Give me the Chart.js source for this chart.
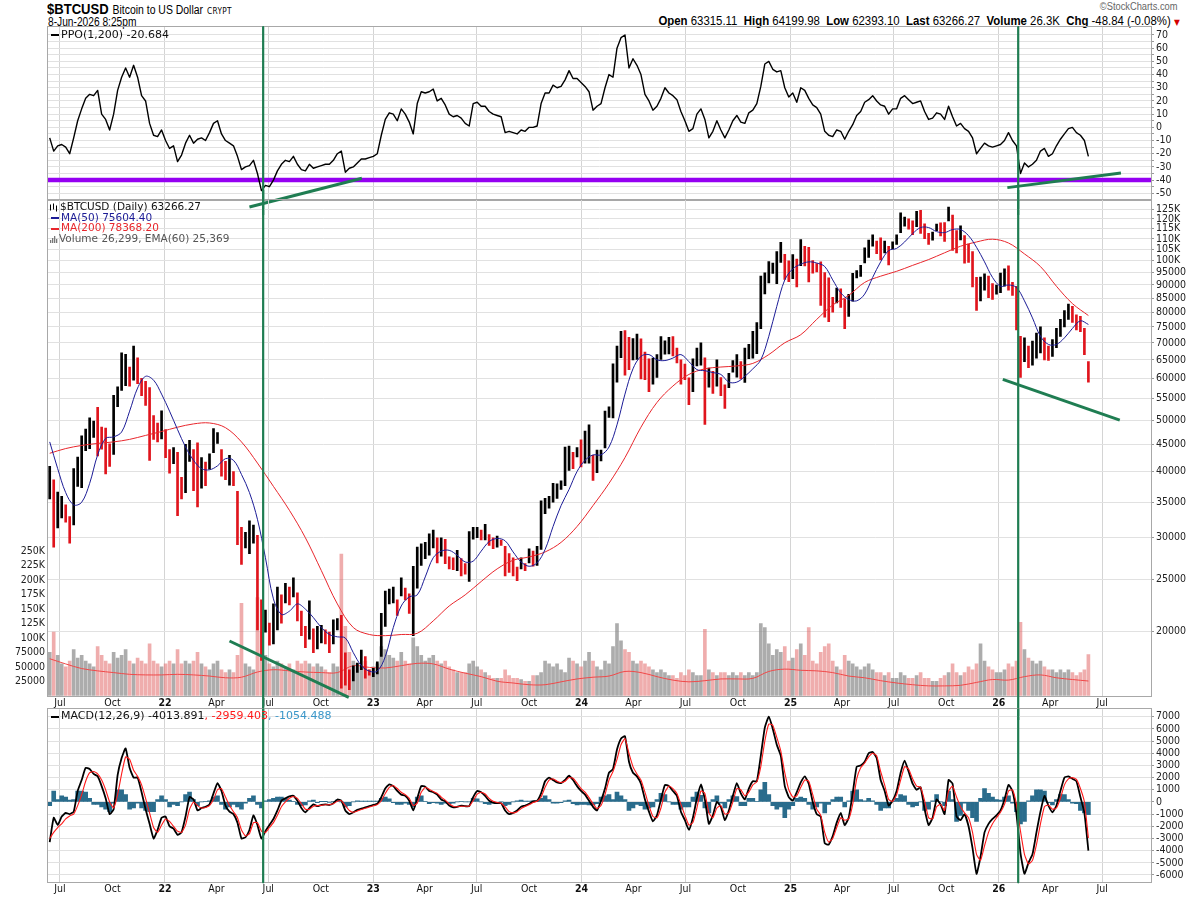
<!DOCTYPE html>
<html>
<head>
<meta charset="utf-8">
<title>$BTCUSD</title>
<script src="https://cdn.jsdelivr.net/npm/chart.js@4.4.1/dist/chart.umd.min.js"></script>
<style>
  html, body { margin: 0; padding: 0; background: #fff; }
  body { width: 1200px; height: 898px; position: relative; overflow: hidden; }
  canvas { position: absolute; left: 0; }
  .hd { position: absolute; white-space: nowrap; color: #000;
        font-family: "Liberation Sans Narrow", "Arial Narrow", "Liberation Sans", sans-serif; }
  #head1 { left: 47px; top: 0px; line-height: 18px; transform: scaleX(0.87); transform-origin: left center; }
  #head1 .sym { font-size: 15px; font-weight: bold; }
  #head1 .nm { font-size: 12px; }
  #head1 .ex { font-family: "DejaVu Sans", sans-serif; font-size: 8.5px; letter-spacing: .4px; }
  #head2 { left: 48px; top: 15px; font-size: 12px; line-height: 14px; transform: scaleX(0.85); transform-origin: left center; }
  #copy { right: 22px; top: 1px; font-family: "Liberation Sans", sans-serif; font-size: 10px; color: #666;
          transform: scaleX(0.93); transform-origin: right center; }
  #quote { right: 20px; top: 14px; font-size: 12px; line-height: 14px; transform: scaleX(0.95); transform-origin: right center; }
  #quote .dn { color: #d40000; font-family: "DejaVu Sans", sans-serif; font-size: 8px; }
</style>
</head>
<body>
<div class="hd" id="head1"><span class="sym">$BTCUSD</span> <span class="nm">Bitcoin to US Dollar</span> <span class="ex">CRYPT</span></div>
<div class="hd" id="head2">8-Jun-2026 8:25pm</div>
<div class="hd" id="copy">©StockCharts.com</div>
<div class="hd" id="quote"><b>Open</b> 63315.11 &nbsp;<b>High</b> 64199.98 &nbsp;<b>Low</b> 62393.10 &nbsp;<b>Last</b> 63266.27 &nbsp;<b>Volume</b> 26.3K &nbsp;<b>Chg</b> -48.84 (-0.08%) <span class="dn">▼</span></div>

<canvas id="ppoChart" width="1200" height="215" style="top:0px"></canvas>
<canvas id="priceChart" width="1200" height="530" style="top:190px"></canvas>
<canvas id="macdChart" width="1200" height="198" style="top:700px"></canvas>

<script>
// ---------- data (weekly, first week starts 10-Jun-2021) ----------
const WEEK_START = '2021-06-10';

// weekly low / high, thousands of USD
const lows = [
  35.5, 28.8, 31.3, 32.7, 32.1, 29.3, 31.7, 37.5, 37.3, 43.8, 44.2, 46.4, 42.8, 44.1, 39.6, 40.9, 43.1, 53.0, 56.9, 58.1, 58.0, 59.5, 58.6, 55.6, 53.3, 42.0, 46.0, 45.5, 46.1, 42.5,
  39.7, 41.4, 33.0, 35.5, 36.5, 41.8, 36.8, 34.3, 37.2, 37.6, 40.4, 43.4, 45.2, 39.2, 38.6, 37.7, 37.6, 29.1, 26.7, 28.7, 28.0, 29.3, 20.1, 17.6, 19.9, 18.8, 18.9, 20.1, 20.7, 22.6, 22.4, 23.2, 20.9, 19.6, 18.6, 19.3, 18.2, 18.5, 19.0, 18.9, 18.2, 18.9, 20.1, 15.6, 15.8, 15.5, 16.1, 16.7, 16.9, 16.3, 16.5, 16.4,
  16.6, 17.9, 20.4, 22.5, 22.6, 21.4, 23.3, 22.9, 21.6, 19.6, 24.1, 26.6, 27.4, 27.8, 28.7, 26.9, 27.7, 26.8, 26.2, 26.1, 26.0, 25.4, 25.6, 24.8, 29.8, 30.0, 29.7, 29.7, 29.0, 28.6, 28.8, 29.0, 25.4, 25.8, 25.4, 24.9, 26.2, 26.0, 26.9, 26.5, 26.6, 28.5, 33.3, 34.1, 35.0, 35.6, 37.0, 37.6, 40.2, 40.5, 42.6, 40.8,
  41.5, 41.5, 38.5, 39.8, 41.9, 44.3, 50.6, 50.5, 59.0, 65.6, 60.8, 62.3, 65.0, 65.1, 59.8, 59.6, 56.6, 58.5, 60.2, 65.1, 66.6, 66.7, 66.1, 64.1, 58.5, 59.6, 53.5, 56.6, 63.3, 63.5, 49.1, 57.7, 56.2, 58.0, 55.6, 52.6, 57.6, 61.6, 60.3, 59.8, 58.9, 65.3, 65.5, 66.8, 74.4, 86.6, 90.8, 94.6, 90.5, 99.3, 92.2, 91.3,
  92.5, 89.2, 97.9, 97.8, 91.2, 94.7, 95.2, 82.3, 78.2, 76.7, 80.0, 83.2, 81.6, 74.4, 78.5, 83.9, 92.8, 93.4, 99.0, 101.4, 106.5, 103.1, 100.4, 103.4, 98.2, 105.3, 107.3, 113.0, 116.2, 114.7, 112.0, 115.9, 112.6, 110.1, 107.3, 109.3, 113.9, 111.4, 108.7, 118.9, 104.6, 103.5, 109.5, 98.9, 99.3, 89.2, 80.6, 84.0, 88.0, 85.2, 84.5, 86.5,
  87.0, 89.5, 88.0, 86.0, 74.0, 60.2, 64.5, 62.8, 63.5, 65.5, 67.0, 65.0, 64.8, 66.0, 68.5, 72.0, 75.0, 77.5, 76.5, 74.0, 73.5, 66.5, 59.0
];
const highs = [
  40.9, 38.6, 36.6, 35.9, 34.6, 32.9, 40.5, 42.6, 46.7, 48.1, 50.5, 49.8, 52.9, 48.5, 48.3, 45.1, 55.7, 57.8, 67.0, 66.6, 63.0, 69.0, 65.6, 60.0, 59.2, 57.6, 51.0, 49.4, 52.1, 48.0,
  44.0, 44.4, 43.5, 39.0, 45.0, 45.8, 44.0, 45.3, 42.5, 41.7, 43.2, 48.2, 47.4, 44.0, 41.8, 42.9, 40.0, 36.7, 31.4, 30.7, 32.3, 31.7, 30.3, 22.9, 21.9, 20.7, 22.5, 24.2, 23.4, 24.6, 24.2, 25.2, 23.6, 21.8, 20.4, 22.8, 20.2, 20.4, 20.5, 20.1, 19.9, 21.0, 21.1, 21.4, 18.2, 16.9, 17.2, 17.4, 18.4, 17.9, 16.9, 17.0,
  17.5, 21.6, 23.8, 24.0, 24.2, 22.9, 25.2, 24.1, 23.5, 26.5, 28.8, 29.2, 29.4, 30.5, 31.0, 30.0, 30.0, 29.8, 27.6, 27.5, 28.4, 27.4, 26.8, 30.8, 31.4, 31.4, 31.0, 31.8, 30.4, 30.0, 30.2, 29.7, 28.9, 28.0, 27.5, 26.4, 27.5, 26.8, 28.6, 28.3, 28.9, 35.2, 35.6, 35.9, 38.0, 37.9, 38.4, 44.5, 44.7, 43.5, 44.4, 45.9,
  47.7, 49.0, 42.9, 43.9, 43.9, 52.0, 53.0, 63.9, 69.0, 73.6, 73.8, 71.7, 71.3, 72.7, 71.2, 67.2, 65.3, 65.5, 66.5, 71.9, 70.6, 71.7, 71.9, 68.4, 65.0, 63.8, 60.1, 65.3, 68.4, 70.0, 65.6, 62.7, 61.8, 65.0, 60.2, 58.3, 61.3, 64.8, 66.5, 64.5, 68.4, 69.5, 73.6, 76.4, 93.5, 94.9, 99.6, 99.0, 104.1, 108.3, 102.8, 99.9,
  102.7, 100.7, 109.6, 106.4, 106.0, 100.1, 98.8, 99.5, 95.0, 92.8, 85.3, 88.8, 88.5, 84.7, 86.4, 94.7, 95.8, 98.0, 105.8, 109.4, 111.9, 108.9, 110.4, 108.9, 106.5, 108.5, 111.9, 123.2, 120.9, 120.0, 118.9, 124.0, 124.5, 117.4, 112.6, 113.3, 117.3, 117.9, 118.0, 126.2, 122.0, 114.0, 116.4, 111.6, 107.5, 104.0, 93.0, 93.1, 94.5, 93.5, 90.5, 90.0,
  94.8, 96.5, 97.8, 91.0, 89.5, 72.0, 71.5, 69.0, 70.5, 73.0, 75.0, 71.5, 69.0, 71.0, 74.5, 77.5, 80.5, 82.8, 82.0, 79.0, 78.5, 74.5, 64.5
];
// weekly volume (thousands)
const volume = [
  75, 110, 70, 55, 50, 60, 80, 65, 70, 60, 55, 50, 85, 70, 60, 55, 75, 65, 70, 80, 60, 55, 65, 60, 55, 90, 60, 55, 50, 55,
  60, 55, 80, 55, 60, 55, 60, 75, 55, 50, 45, 55, 60, 45, 40, 45, 40, 70, 160, 55, 50, 45, 170, 110, 70, 55, 50, 60, 55, 50, 55, 45, 60, 55, 60, 55, 50, 55, 50, 45, 40, 55, 50, 245, 120, 75, 60, 55, 50, 60, 45, 50,
  55, 85, 80, 70, 65, 60, 75, 60, 55, 100, 85, 70, 60, 65, 70, 60, 55, 60, 50, 45, 40, 40, 40, 55, 60, 50, 45, 40, 35, 30, 30, 30, 45, 35, 30, 30, 28, 25, 25, 35, 35, 40, 60, 55, 50, 55, 45, 40, 65, 60, 55, 50,
  60, 75, 60, 50, 45, 60, 55, 85, 125, 95, 80, 75, 60, 55, 60, 55, 50, 45, 40, 45, 40, 35, 35, 30, 40, 35, 45, 40, 35, 35, 115, 45, 40, 35, 40, 40, 35, 40, 35, 40, 35, 40, 35, 40, 125, 118, 90, 70, 80, 75, 85, 60,
  65, 80, 90, 70, 118, 60, 55, 75, 85, 90, 60, 50, 45, 70, 60, 55, 50, 45, 50, 55, 45, 40, 40, 35, 40, 30, 30, 40, 35, 30, 30, 35, 40, 30, 30, 25, 25, 30, 35, 40, 55, 40, 35, 40, 50, 45, 55, 90, 60, 50, 45, 40,
  40, 45, 55, 50, 60, 127, 80, 65, 60, 55, 60, 50, 45, 45, 40, 45, 40, 45, 40, 35, 40, 45, 71
];
// PPO(1,200), weekly
const ppo = [
  -8, -18, -14, -13, -15, -20, -8, 5, 14, 22, 25, 24, 28, 10, 6, -2, 10, 28, 38, 45, 38, 47, 38, 24, 20, 3, -6, -7, -2, -10,
  -16, -14, -26, -21, -12, -6, -12, -9, -8, -10, -4, 3, 5, -5, -10, -12, -14, -22, -32, -30, -29, -25, -35, -48, -44, -45, -40, -33, -28, -25, -26, -22, -28, -32, -33, -28, -31, -30, -29, -28, -28, -25, -20, -18, -34, -31, -30, -27, -24, -24, -23, -22,
  -20, -6, 6, 11, 10, 5, 14, 10, 4, -5, 18, 27, 26, 27, 29, 20, 22, 17, 10, 8, 9, 7, 3, 1, 18, 19, 16, 16, 12, 10, 9, 8, -4, -3, -4, -5, -2, -3, 0, 0, 1, 18, 26, 26, 32, 30, 31, 36, 43, 37, 37, 34,
  31, 27, 13, 16, 18, 30, 40, 38, 60, 68, 70, 45, 52, 47, 40, 25, 20, 13, 16, 22, 30, 26, 24, 21, 12, 5, -3, -1, 10, 14, 6, -8, -3, 5, -2, -8, -2, 5, 9, 4, 3, 11, 13, 18, 31, 48, 50, 44, 42, 43, 30, 23,
  26, 19, 30, 28, 22, 17, 15, 10, -3, -6, -7, -2, -3, -9, -3, 2, 9, 12, 19, 21, 24, 20, 17, 16, 10, 14, 14, 22, 24, 21, 18, 19, 20, 12, 6, 7, 11, 10, 6, 16, 8, 1, 3, -1, -3, -8, -20, -16, -12, -14, -15, -14,
  -13, -10, -4, -10, -14, -35, -27, -30, -28, -25, -18, -16, -22, -20, -14, -9, -5, -1, 0, -4, -6, -10, -22
];
// MACD(12,26,9): line, signal, histogram, weekly
const macd = [
  -3300, -1300, -1900, -1200, -900, -1000, -800, 900, 1800, 2800, 2700, 2300, 2100, 1300, 300, -1000, -600, 2200, 3600, 4400, 2800, 2000, 2000, 800, -600, -1800, -3000, -2300, -1300, -1200,
  -2000, -2200, -2700, -2500, -1200, 400, 200, -700, -500, -400, -200, 700, 1550, 900, -300, -800, -1000, -1700, -3000, -2900, -2300, -1100, -1900, -3000, -2400, -1900, -1400, -700, 100, 300, 450, 500, 100, -500, -850, -500, -200, -350, -250, -200, -250, -100, 200, 100, -700, -1000, -850, -650, -550, -450, -350, -250,
  -150, 400, 1100, 1450, 1300, 900, 600, 500, 100, -700, 300, 1300, 1250, 900, 800, 600, 200, 50, -300, -450, -400, -300, -350, -350, 400, 900, 800, 500, 100, -50, -100, -100, -700, -1000, -900, -700, -400, -300, -150, 50, 80, 700, 1700, 2000, 1800, 1600, 1550, 1800, 2150, 1800, 1300, 900,
  600, 100, -400, -700, 100, 1100, 2400, 2700, 4300, 5200, 5400, 3300, 2400, 2100, 1500, 200, -800, -1600, -1100, 200, 1400, 1300, 900, 500, -800, -1500, -2300, -1300, 300, 1450, 200, -1800, -1100, 0, -400, -1500, -700, 500, 1550, 700, 200, 1100, 1700, 1700, 3800, 6100, 7000, 6000, 4700, 3800, 1300, 400,
  100, 800, 1600, 2100, 1500, 0, -1000, -1200, -3400, -3500, -2800, -1700, -900, -1900, -1300, 700, 2900, 3000, 3300, 4000, 4100, 3600, 1800, 900, -300, 100, 900, 2400, 3400, 2500, 1500, 1000, 1200, -600, -1900, -1300, 200, -200, -1000, 1800, 1500, -1200, -1500, -1000, -2000, -3800, -5900, -4500, -2500, -1800, -1400, -1100,
  -700, 200, 1400, 900, -1000, -4200, -5900, -5000, -4300, -2500, -800, 500, -300, -850, -300, 900, 2000, 2100, 1900, 1700, 400, -900, -4000
];
const signal = [
  -3000, -2500, -2100, -1800, -1400, -1150, -1000, -300, 600, 1700, 2400, 2500, 2300, 1800, 1000, 0, -500, 600, 2300, 3700, 3500, 2600, 2100, 1400, 300, -900, -2100, -2500, -1900, -1400,
  -1600, -2000, -2400, -2500, -1900, -600, 0, -300, -500, -450, -300, 200, 1000, 1100, 400, -300, -800, -1300, -2300, -2800, -2600, -1700, -1700, -2400, -2500, -2100, -1700, -1100, -400, 0, 300, 450, 300, -150, -600, -600, -350, -300, -280, -230, -230, -150, 50, 100, -300, -700, -850, -750, -620, -520, -420, -320,
  -220, 100, 700, 1200, 1350, 1100, 800, 600, 300, -300, -100, 800, 1200, 1050, 850, 700, 400, 150, -150, -350, -400, -350, -350, -350, 100, 650, 800, 650, 300, 50, -50, -100, -400, -800, -900, -800, -550, -380, -230, -50, 50, 400, 1200, 1800, 1900, 1700, 1600, 1700, 2000, 1950, 1550, 1100,
  800, 350, -150, -550, -300, 600, 1800, 2500, 3500, 4700, 5200, 4000, 2900, 2300, 1800, 800, -300, -1200, -1300, -500, 800, 1300, 1100, 700, -200, -1100, -1900, -1700, -500, 900, 700, -900, -1300, -500, -300, -1000, -900, 0, 1100, 1000, 500, 800, 1400, 1650, 2900, 5000, 6400, 6300, 5300, 4200, 2400, 1000,
  400, 500, 1200, 1800, 1700, 600, -600, -1100, -2500, -3300, -3000, -2100, -1300, -1500, -1400, -200, 1900, 2800, 3200, 3700, 4000, 3800, 2500, 1400, 200, 50, 600, 1800, 2900, 2700, 1900, 1300, 1200, 100, -1300, -1400, -400, -200, -700, 900, 1300, 400, -400, -900, -1300, -2500, -4300, -4800, -3600, -2500, -1800, -1300,
  -850, -200, 900, 1000, -200, -2400, -4300, -5100, -4800, -3500, -1800, -400, -250, -600, -500, 300, 1400, 1900, 2000, 1850, 1100, 0, -2960
];
const hist = [
  -300, 900, 200, 500, 400, 150, 200, 900, 900, 800, 300, -200, -200, -400, -600, -800, -100, 1000, 1000, 600, -600, -500, -100, -500, -700, -800, -800, 200, 500, 200,
  -400, -200, -300, 0, 600, 800, 200, -300, 0, 50, 100, 400, 500, -200, -600, -400, -200, -400, -600, -100, 300, 500, -200, -500, 100, 200, 300, 400, 400, 300, 150, 50, -200, -300, -250, 100, 150, -50, 30, 30, -20, 50, 150, 0, -400, -300, 0, 100, 70, 70, 70, 70,
  70, 300, 400, 250, -50, -200, -200, -100, -200, -400, 400, 500, 50, -150, -50, -100, -200, -100, -150, -100, 0, 50, 0, 0, 300, 250, 0, -150, -200, -100, -50, 0, -300, -200, 0, 100, 150, 80, 80, 100, 30, 300, 500, 200, -100, -100, -50, 100, 150, -150, -250, -200,
  -200, -250, -250, -150, 400, 500, 600, 200, 800, 500, 200, -700, -500, -200, -300, -600, -500, -400, 200, 700, 600, 0, -200, -200, -600, -400, -400, 400, 800, 550, -500, -900, 200, 500, -100, -500, 200, 500, 450, -300, -300, 300, 300, 50, 1000, 1600, 600, -300, -600, -400, -1300, -600,
  -300, 300, 400, 300, -200, -600, -400, -100, -900, -200, 200, 400, 400, -400, 100, 900, 1000, 200, 100, 300, 100, -200, -700, -500, -500, 50, 300, 600, 500, -200, -400, -300, 0, -700, -600, 100, 600, 0, -300, 900, 200, -1600, -1100, -100, -700, -1300, -1600, 300, 1100, 700, 400, 200,
  150, 400, 500, -100, -800, -1800, -1600, 100, 500, 1000, 1000, 900, -50, -250, 200, 600, 600, 200, -100, -150, -700, -900, -1054
];
// moving averages (thousands): MA(50) every 2nd week, MA(200) and volume EMA(60) every 4th week
const ma50 = [
  45.5, 40.5, 36.5, 34.6, 35.0, 38.0, 43.0, 46.2, 46.5, 47.5, 52.0, 57.5, 60.5, 59.5, 56.0,
  52.0, 48.0, 44.5, 42.0, 40.5, 40.3, 41.0, 42.3, 42.0, 39.5, 36.5, 32.5, 27.5, 23.0, 21.5, 21.8, 22.5, 22.0, 21.2, 20.3, 19.7, 19.5, 19.4, 18.2, 17.2, 16.8,
  16.8, 17.9, 20.3, 22.3, 23.2, 23.4, 25.3, 27.5, 28.3, 28.4, 27.8, 27.0, 27.1, 28.3, 29.5, 29.9, 29.6, 28.2, 27.0, 26.5, 26.9, 28.5, 31.5, 34.5, 37.0, 40.0,
  42.0, 43.0, 43.0, 44.5, 49.0, 56.0, 62.5, 66.0, 66.5, 65.0, 64.8, 65.5, 66.5, 64.5, 62.3, 62.0, 61.5, 61.0, 59.0, 59.0, 60.5, 62.5, 65.0, 72.0, 82.0, 92.0,
  96.5, 98.5, 99.5, 99.0, 97.5, 92.0, 87.0, 84.5, 84.0, 86.5, 93.0, 99.5, 104.5, 105.5, 108.5, 112.5, 115.5, 115.5, 113.5, 113.0, 114.5, 114.5, 111.5, 106.0, 99.5, 93.0,
  89.5, 90.0, 89.0, 84.0, 78.0, 72.0, 69.5, 69.5, 71.5, 74.5, 77.0, 75.8
];
const ma200 = [
  43.3, 44.2, 44.8, 45.2, 45.5, 46.0, 46.8, 47.6,
  48.5, 49.2, 49.4, 48.4, 45.5, 41.5, 37.5, 33.8, 30.0, 26.0, 22.5, 20.3, 19.7,
  19.6, 19.7, 19.8, 20.9, 22.3, 23.4, 24.8, 26.2, 27.2, 27.6, 28.2, 29.4, 31.5,
  34.5, 38.0, 42.5, 48.5, 54.0, 58.0, 61.0, 62.5, 63.0, 63.3, 64.0, 66.5, 70.0,
  72.5, 77.5, 82.5, 86.0, 91.0, 93.5, 95.5, 98.0, 100.5, 103.5, 106.5, 108.5, 109.8,
  108.0, 103.0, 97.5, 89.5, 83.0, 78.8
];
const volEma = [
  64, 55, 47, 43, 40, 37, 36, 36,
  37, 36, 34, 31, 32, 41, 45, 43, 41, 40, 40, 52, 49,
  48, 52, 56, 55, 46, 39, 33, 25, 22, 19, 19, 24, 29,
  32, 34, 42, 40, 33, 27, 24, 26, 29, 29, 30, 42, 46,
  44, 43, 40, 34, 31, 26, 22, 19, 17, 17, 18, 23, 28,
  27, 33, 36, 31, 28, 25.4
];

// axis tick values
const priceTicks = [125000, 120000, 115000, 110000, 105000, 100000, 95000, 90000, 85000, 80000, 75000, 70000,
  65000, 60000, 55000, 50000, 45000, 40000, 35000, 30000, 25000, 20000];
const volTicks = [25000, 50000, 75000, 100000, 125000, 150000, 175000, 200000, 225000, 250000];
const ppoTicks = [-50, -45, -40, -35, -30, -25, -20, -15, -10, -5, 0, 5, 10, 15, 20, 25, 30, 35, 40, 45, 50, 55, 60, 65, 70];
const macdTicks = [-6000, -5000, -4000, -3000, -2000, -1000, 0, 1000, 2000, 3000, 4000, 5000, 6000, 7000];

// drawn annotations
const markerDates = ['2022-06-22', '2026-02-04'];
const ppoFloor = -40;
const ppoTrends = [[['2022-05-29', -60.4], ['2022-12-12', -38.6]], [['2026-01-16', -45.7], ['2026-08-03', -34.6]]];
const priceTrends = [[['2022-04-24', 19150], ['2022-11-19', 14990]], [['2026-01-08', 59700], ['2026-08-01', 50000]]];

// ---------- layout ----------
const DAY0 = Date.UTC(2021, 6, 1);          // x = days since 1-Jul-2021
const X_MIN = -21.0, X_MAX = 1911.7;
const PPO_MIN = -54.7, PPO_MAX = 76.06;
const PRICE_MIN = 15098, PRICE_MAX = 130200;
const VOL_MAX = 858200;
const MACD_MIN = -6600, MACD_MAX = 7608;

const AXIS_FONT = '"DejaVu Sans Condensed", "Liberation Sans", sans-serif';
const LEG_FONT = '"DejaVu Sans", Verdana, sans-serif';
const GRID = '#e1e1e1';
const FRAME = '#a8a8a8';
const GREEN = '#1f7d52';
const MONTHS = ['Jan', 'Feb', 'Mar', 'Apr', 'May', 'Jun', 'Jul', 'Aug', 'Sep', 'Oct', 'Nov', 'Dec'];

const dayOf = s => (Date.parse(s + 'T00:00:00Z') - DAY0) / 864e5;
const weekX = i => dayOf(WEEK_START) + 7 * i + 3;
const monthOf = v => new Date(DAY0 + v * 864e5).getUTCMonth();
const fmtK = v => (v >= 100000 ? (v / 1000) + 'K' : String(v));

// bar colours follow the week-on-week move of the bar midpoint
const mids = lows.map((lo, i) => (lo + highs[i]) / 2);
const upWeek = mids.map((m, i) => i === 0 || m >= mids[i - 1]);
const priceColors = upWeek.map(u => (u ? '#000000' : '#e0141c'));
const volColors = upWeek.map(u => (u ? 'rgba(140,140,140,0.72)' : 'rgba(226,105,105,0.55)'));

function quarterTicks(scale) {
  const t = [];
  for (let y = 2021; y <= 2026; y++) {
    for (const m of [0, 3, 6, 9]) {
      const d = (Date.UTC(y, m, 1) - DAY0) / 864e5;
      if (d >= X_MIN && d <= X_MAX) t.push({ value: d });
    }
  }
  scale.ticks = t;
}

function xAxis(showLabels, height) {
  return {
    type: 'linear', min: X_MIN, max: X_MAX, offset: false,
    afterBuildTicks: quarterTicks,
    afterFit: s => { s.height = height; },
    grid: {
      offset: false, drawTicks: false,
      color: c => (c.tick && monthOf(c.tick.value) % 6 === 0 ? '#d4d4d4' : 'rgba(0,0,0,0)')
    },
    border: { display: false },
    ticks: {
      display: showLabels, autoSkip: false, maxRotation: 0, padding: 1, color: '#111',
      callback: v => {
        const d = new Date(DAY0 + v * 864e5);
        return d.getUTCMonth() === 0 ? String(d.getUTCFullYear()).slice(2) : MONTHS[d.getUTCMonth()];
      },
      font: c => ({ family: AXIS_FONT, size: 10.5, weight: c.tick && monthOf(c.tick.value) === 0 ? 'bold' : 'normal' })
    }
  };
}

function rightAxis(type, min, max, tickList, fmt) {
  return {
    type, position: 'right', min, max,
    afterBuildTicks: s => { s.ticks = tickList.map(v => ({ value: v })); },
    afterFit: s => { s.width = 49; },
    grid: { color: GRID, tickLength: 3, tickColor: '#999' },
    border: { display: false },
    ticks: { autoSkip: false, padding: 2, color: '#222', font: { family: AXIS_FONT, size: 10.5 }, callback: fmt }
  };
}

const trendSet = (pts, axis) => ({
  type: 'line', yAxisID: axis || 'y',
  data: pts.map(([d, v]) => ({ x: dayOf(d), y: v })),
  borderColor: GREEN, borderWidth: 3, clip: false, order: 0
});
const vline = (d, top, bottom, axis) => ({
  type: 'line', yAxisID: axis || 'y',
  data: [{ x: dayOf(d), y: top }, { x: dayOf(d), y: bottom }],
  borderColor: GREEN, borderWidth: 2.2, clip: false, order: 0
});

const frame = {
  id: 'frame',
  beforeDatasetsDraw(chart) {
    const { ctx, chartArea: a } = chart;
    ctx.save();
    ctx.strokeStyle = FRAME;
    ctx.lineWidth = 1;
    ctx.strokeRect(Math.round(a.left) - 0.5, Math.round(a.top) - 0.5, Math.round(a.right - a.left) + 1, Math.round(a.bottom - a.top) + 1);
    ctx.restore();
  }
};

function legendPlugin(canvasTop, rows) {
  return {
    id: 'legendText',
    afterDraw(chart) {
      const ctx = chart.ctx;
      ctx.save();
      ctx.textBaseline = 'middle';
      for (const row of rows) {
        const y = row.y - canvasTop;
        let x = row.x;
        if (row.mark) { ctx.fillStyle = row.mark; ctx.fillRect(x, Math.round(y) - 1, 8, 2); x += 10; }
        if (row.icon === 'ohlc') {
          ctx.strokeStyle = '#000'; ctx.lineWidth = 1;
          [[0.5, -3, 3], [3.5, -4, 2], [6.5, -2, 4]].forEach(([dx, a, b]) => {
            ctx.beginPath(); ctx.moveTo(x + dx, y + a); ctx.lineTo(x + dx, y + b); ctx.stroke();
          });
          x += 10;
        }
        if (row.icon === 'vol') {
          ctx.fillStyle = '#777';
          [[0, 3], [2, 5], [4, 7], [6, 4]].forEach(([dx, h]) => ctx.fillRect(x + dx, y + 4 - h, 1.3, h));
          x += 9;
        }
        ctx.font = row.font;
        for (const [text, color] of row.parts) {
          ctx.fillStyle = color;
          ctx.fillText(text, x, y);
          x += ctx.measureText(text).width;
        }
      }
      ctx.restore();
    }
  };
}

const base = {
  responsive: false, animation: false, devicePixelRatio: 1, events: [],
  elements: { point: { radius: 0 }, line: { tension: 0, borderJoinStyle: 'round' } },
  plugins: { legend: { display: false }, tooltip: { enabled: false } }
};

// ---------- PPO panel ----------
new Chart(document.getElementById('ppoChart'), {
  type: 'line',
  data: {
    datasets: [
      { data: [{ x: X_MIN, y: ppoFloor }, { x: X_MAX, y: ppoFloor }], borderColor: '#9500f2', borderWidth: 4.5, order: 3 },
      { data: ppo.map((v, i) => ({ x: weekX(i), y: v })), borderColor: '#000', borderWidth: 1.4, order: 2 },
      ...ppoTrends.map(t => trendSet(t)),
      ...markerDates.map(d => vline(d, PPO_MAX, -70))
    ]
  },
  options: {
    ...base,
    layout: { padding: { left: 48, top: 27, right: 0, bottom: 15.5 } },
    scales: {
      x: xAxis(false, 0),
      y: rightAxis('linear', PPO_MIN, PPO_MAX, ppoTicks, v => (v % 10 === 0 ? String(v) : ''))
    }
  },
  plugins: [frame, legendPlugin(0, [
    { x: 51, y: 35, mark: '#000', font: '11px ' + LEG_FONT, parts: [['PPO(1,200) -20.684', '#111']] }
  ])]
});

// ---------- price + volume panel ----------
new Chart(document.getElementById('priceChart'), {
  type: 'bar',
  data: {
    datasets: [
      { type: 'bar', yAxisID: 'vol', grouped: false, barThickness: 3, order: 10,
        data: volume.map((v, i) => ({ x: weekX(i), y: v * 1000 })), backgroundColor: volColors },
      { type: 'line', yAxisID: 'vol', order: 9, borderColor: '#f04848', borderWidth: 1, tension: 0.35,
        data: volEma.map((v, k) => ({ x: weekX(4 * k), y: v * 1000 })) },
      { type: 'bar', yAxisID: 'y', grouped: false, barThickness: 2, order: 5,
        data: lows.map((lo, i) => ({ x: weekX(i), y: [lo * 1000, highs[i] * 1000] })), backgroundColor: priceColors },
      { type: 'line', yAxisID: 'y', order: 4, borderColor: '#e8262c', borderWidth: 1, tension: 0.35,
        data: ma200.map((v, k) => ({ x: weekX(4 * k), y: v * 1000 })) },
      { type: 'line', yAxisID: 'y', order: 3, borderColor: '#1c1c96', borderWidth: 1, tension: 0.35,
        data: ma50.map((v, k) => ({ x: weekX(2 * k), y: v * 1000 })) },
      ...priceTrends.map(t => trendSet(t)),
      ...markerDates.map(d => vline(d, 140000, 13000))
    ]
  },
  options: {
    ...base,
    layout: { padding: { left: 0, top: 10, right: 0, bottom: 0 } },
    scales: {
      x: xAxis(true, 24.3),
      y: rightAxis('logarithmic', PRICE_MIN, PRICE_MAX, priceTicks, fmtK),
      vol: {
        type: 'linear', position: 'left', min: 0, max: VOL_MAX,
        afterBuildTicks: s => { s.ticks = volTicks.map(v => ({ value: v })); },
        afterFit: s => { s.width = 48; },
        grid: { display: false, drawTicks: false },
        border: { display: false },
        ticks: { autoSkip: false, padding: 3, color: '#222', font: { family: AXIS_FONT, size: 10.5 }, callback: fmtK }
      }
    }
  },
  plugins: [frame, legendPlugin(190, [
    { x: 50, y: 207.5, icon: 'ohlc', font: '10.5px ' + LEG_FONT, parts: [['$BTCUSD (Daily) 63266.27', '#111']] },
    { x: 51, y: 218, mark: '#1c1c96', font: '10.5px ' + LEG_FONT, parts: [['MA(50) 75604.40', '#1c1c96']] },
    { x: 51, y: 228.5, mark: '#e8262c', font: '10.5px ' + LEG_FONT, parts: [['MA(200) 78368.20', '#e8262c']] },
    { x: 50, y: 239, icon: 'vol', font: '10.5px ' + LEG_FONT, parts: [['Volume 26,299, EMA(60) 25,369', '#555']] }
  ])]
});

// ---------- MACD panel ----------
new Chart(document.getElementById('macdChart'), {
  type: 'bar',
  data: {
    datasets: [
      { type: 'bar', grouped: false, barThickness: 4, order: 5, backgroundColor: '#2a6c8c',
        data: hist.map((v, i) => ({ x: weekX(i), y: v })) },
      { type: 'line', order: 3, borderColor: '#000', borderWidth: 1.8, tension: 0.15,
        data: macd.map((v, i) => ({ x: weekX(i), y: v })) },
      { type: 'line', order: 2, borderColor: '#ff1a1a', borderWidth: 1.1, tension: 0.15,
        data: signal.map((v, i) => ({ x: weekX(i), y: v })) },
      ...markerDates.map(d => vline(d, MACD_MAX, MACD_MIN))
    ]
  },
  options: {
    ...base,
    layout: { padding: { left: 48, top: 9.3, right: 0, bottom: 0 } },
    scales: {
      x: xAxis(true, 15.7),
      y: rightAxis('linear', MACD_MIN, MACD_MAX, macdTicks, v => String(v))
    }
  },
  plugins: [frame, legendPlugin(700, [
    { x: 51, y: 716.5, mark: '#000', font: '11px ' + LEG_FONT,
      parts: [['MACD(12,26,9) -4013.891', '#111'], [', -2959.403', '#ff1a1a'], [', -1054.488', '#3a96c8']] }
  ])]
});
</script>
</body>
</html>
